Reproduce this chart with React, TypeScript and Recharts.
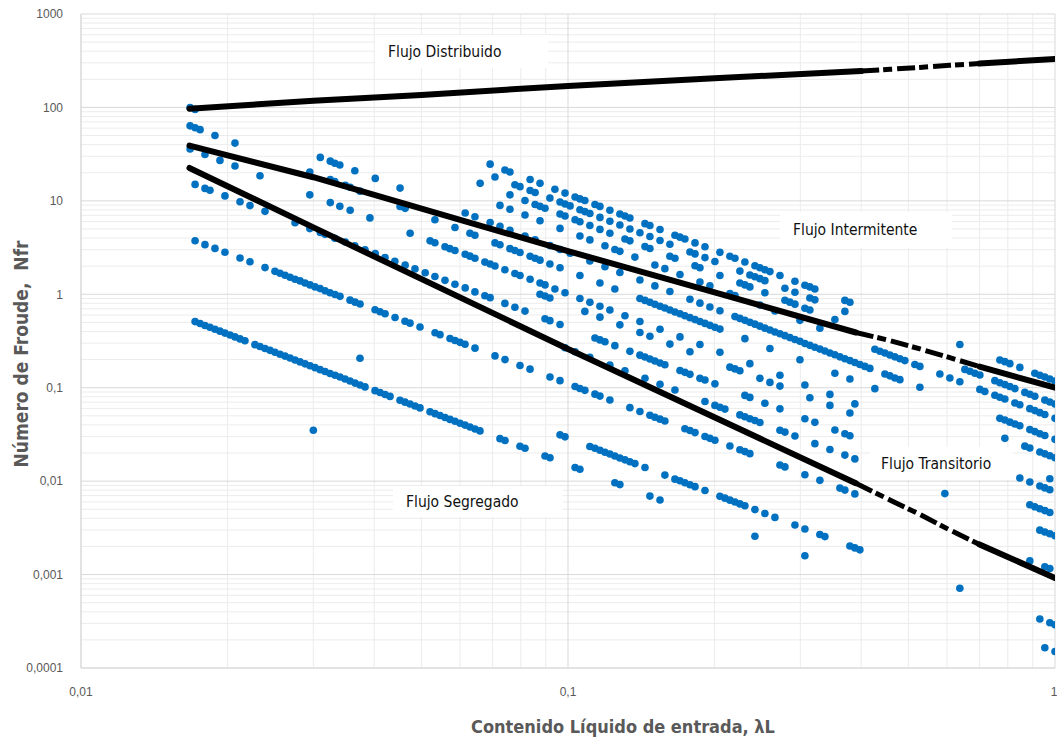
import React from "react";
import { ScatterChart, Scatter, XAxis, YAxis, ReferenceLine } from "recharts";

type Pt = [number, number];

// Flow-pattern boundary lines: dense parts and the thinner broken stretch between them
const distribuidoA: Pt[] = [[0.0167, 97], [0.03, 118], [0.05, 136], [0.1, 170], [0.2, 205], [0.4, 245]];
const distribuidoMid: Pt[] = [[0.4, 245], [0.458, 256], [0.528, 268], [0.608, 282], [0.7, 295]];
const distribuidoB: Pt[] = [[0.7, 295], [1, 330]];
const intermitenteA: Pt[] = [[0.0167, 39], [0.03, 17.9], [0.1, 2.9], [0.2, 1.05], [0.39, 0.39]];
const intermitenteMid: Pt[] = [[0.39, 0.39], [0.458, 0.32], [0.528, 0.26], [0.608, 0.21], [0.7, 0.168]];
const intermitenteB: Pt[] = [[0.7, 0.168], [1, 0.1]];
const transitorioA: Pt[] = [[0.0167, 22.5], [0.03, 5.2], [0.1, 0.26], [0.39, 0.0095]];
const transitorioMid: Pt[] = [[0.39, 0.0095], [0.458, 0.0063], [0.528, 0.0044], [0.608, 0.003], [0.7, 0.0021]];
const transitorioB: Pt[] = [[0.7, 0.0021], [1, 0.00092]];

// Measured points, grouped by visible rows (lambda, Nfr)
const rowT1: Pt[] = [[0.0692,24.7],[0.0742,21.4],[0.076,20.4],[0.0836,16.9],[0.0876,15.4],[0.094,13.3],[0.0986,12.1],[0.1034,11.0],[0.1058,10.5],[0.1083,10.1],[0.1136,9.15],[0.1163,8.72],[0.1219,7.93],[0.1278,7.22],[0.1309,6.88],[0.134,6.56],[0.1439,5.7],[0.1473,5.44],[0.1545,4.94],[0.1658,4.28],[0.1698,4.09],[0.1738,3.91],[0.1823,3.55],[0.1911,3.23],[0.2051,2.81],[0.215,2.55],[0.2202,2.43],[0.2308,2.22],[0.242,2.02],[0.2478,1.92],[0.2537,1.83],[0.2598,1.75],[0.2724,1.59],[0.2924,1.38],[0.3065,1.25],[0.3138,1.2],[0.3213,1.14],[0.3703,0.86],[0.3792,0.821],[0.6377,0.29],[0.7705,0.198],[0.7889,0.19],[0.8078,0.181],[0.8468,0.165],[0.909,0.143],[0.9308,0.136],[0.953,0.13],[0.9758,0.124],[1,0.118]];
const rowT2: Pt[] = [[0.0708,18.0],[0.0778,14.9],[0.0797,14.2],[0.0836,12.9],[0.0856,12.3],[0.0918,10.7],[0.0963,9.71],[0.0986,9.26],[0.101,8.83],[0.1058,8.04],[0.1083,7.67],[0.1109,7.31],[0.1163,6.65],[0.1219,6.05],[0.1278,5.51],[0.134,5.0],[0.1405,4.55],[0.1473,4.15],[0.1545,3.77],[0.1619,3.43],[0.178,2.84],[0.1823,2.71],[0.1911,2.47],[0.2003,2.24],[0.2254,1.77],[0.2363,1.61],[0.242,1.54],[0.2478,1.47],[0.2537,1.4],[0.2789,1.16],[0.2924,1.05],[0.3138,0.914],[0.3213,0.872],[0.3703,0.656]];
const rowT3: Pt[] = [[0.066,15.4],[0.076,11.6],[0.0816,10.1],[0.0856,9.15],[0.0876,8.73],[0.0897,8.33],[0.0963,7.23],[0.0986,6.89],[0.1034,6.27],[0.1058,5.98],[0.1109,5.44],[0.1163,4.95],[0.1219,4.5],[0.1309,3.91],[0.134,3.73],[0.1439,3.24],[0.1473,3.09],[0.1619,2.55],[0.1658,2.43],[0.1823,2.02],[0.1866,1.92],[0.2051,1.59],[0.2254,1.32],[0.2308,1.26],[0.2363,1.2],[0.2537,1.04],[0.2789,0.864],[0.2855,0.824],[0.2924,0.784],[0.3065,0.71],[0.3138,0.68],[0.3532,0.537],[0.653,0.157],[0.6686,0.15],[0.6846,0.143],[0.701,0.137],[0.7525,0.119],[0.7705,0.113],[0.7889,0.108],[0.8078,0.103],[0.8271,0.0978],[0.8671,0.0891],[0.8878,0.0851],[0.909,0.0811],[0.953,0.0737],[0.9758,0.0704],[1,0.067]];
const rowT4: Pt[] = [[0.0725,8.94],[0.076,8.14],[0.0816,7.06],[0.0876,6.12],[0.0963,5.07],[0.1058,4.2],[0.1109,3.82],[0.1191,3.31],[0.1248,3.01],[0.1278,2.88],[0.1372,2.5],[0.1508,2.06],[0.1581,1.88],[0.1698,1.63],[0.1866,1.35],[0.1956,1.23],[0.215,1.02],[0.2202,0.968],[0.2478,0.766],[0.266,0.663],[0.2994,0.526],[0.329,0.434],[0.4267,0.258],[0.4369,0.246],[0.4474,0.235],[0.4581,0.224],[0.469,0.214],[0.4803,0.204],[0.4917,0.195],[0.5155,0.177],[0.5279,0.169],[0.5802,0.14],[0.6083,0.127],[0.6377,0.116],[0.701,0.0959],[0.7177,0.0912],[0.7525,0.0832],[0.7705,0.079],[0.7889,0.0757],[0.8271,0.0686],[0.8468,0.0658],[0.8878,0.0597],[0.909,0.0569],[0.9308,0.0541],[0.953,0.0517],[1,0.047]];
const rowR6: Pt[] = [[0.01675,99.9],[0.01715,95.3],[0.031,29.2],[0.0325,26.6],[0.0332,25.3],[0.034,24.2],[0.0365,21.0],[0.0402,17.4],[0.0452,13.7],[0.0615,7.42],[0.0644,6.75],[0.0692,5.85],[0.0725,5.33],[0.076,4.85],[0.0816,4.21],[0.0856,3.82],[0.0918,3.32],[0.0963,3.02],[0.101,2.75],[0.1109,2.27],[0.1191,1.97],[0.1278,1.71],[0.1405,1.42],[0.1508,1.23],[0.1619,1.07],[0.178,0.885],[0.1866,0.804],[0.1956,0.731],[0.2051,0.666],[0.2202,0.577],[0.2254,0.552],[0.2308,0.526],[0.2363,0.501],[0.242,0.479],[0.2478,0.456],[0.2537,0.434],[0.2598,0.414],[0.266,0.395],[0.2724,0.378],[0.2789,0.361],[0.2855,0.344],[0.2924,0.328],[0.2994,0.314],[0.3065,0.297],[0.3138,0.284],[0.3213,0.271],[0.329,0.259],[0.3369,0.247],[0.345,0.235],[0.3532,0.225],[0.3617,0.214],[0.3703,0.204],[0.3792,0.195],[0.3882,0.186],[0.3975,0.177],[0.407,0.169],[0.4168,0.161],[0.4474,0.14],[0.4581,0.134],[0.469,0.127],[0.4803,0.122],[0.5279,0.101],[0.7705,0.047],[0.7889,0.0451],[0.8078,0.0428],[0.8271,0.0409],[0.8468,0.0392],[0.8878,0.0356],[0.909,0.0339],[0.9308,0.0322],[0.953,0.0308],[1,0.028]];
const rowR5: Pt[] = [[0.01675,63.5],[0.01715,60.6],[0.01756,57.8],[0.01884,50.1],[0.02071,41.5],[0.0295,20.4],[0.0325,16.9],[0.0332,16.1],[0.0349,14.7],[0.0357,14.0],[0.0374,12.7],[0.0452,8.72],[0.0463,8.31],[0.0533,6.27],[0.0586,5.18],[0.0629,4.5],[0.0644,4.29],[0.0708,3.55],[0.0725,3.39],[0.076,3.08],[0.0778,2.94],[0.0797,2.8],[0.0836,2.55],[0.0856,2.43],[0.0876,2.32],[0.0918,2.11],[0.0963,1.92],[0.1058,1.59],[0.1163,1.32],[0.1248,1.14],[0.1405,0.901],[0.1439,0.86],[0.1473,0.821],[0.1508,0.781],[0.1545,0.746],[0.1581,0.712],[0.1619,0.678],[0.1658,0.646],[0.1698,0.618],[0.1738,0.589],[0.178,0.562],[0.1823,0.536],[0.1866,0.511],[0.1911,0.488],[0.1956,0.465],[0.2003,0.443],[0.2051,0.424],[0.2308,0.335],[0.2598,0.263],[0.2994,0.199],[0.3532,0.143],[0.3792,0.124],[0.4267,0.0977],[0.7889,0.0287],[0.8671,0.0237],[0.8878,0.0226],[0.9308,0.0205],[0.953,0.0196],[0.9758,0.0187],[1,0.0178]];
const rowR4: Pt[] = [[0.01675,36.0],[0.01797,31.3],[0.01929,27.1],[0.02071,23.6],[0.02331,18.6],[0.0295,11.6],[0.0325,9.58],[0.034,8.73],[0.0357,7.94],[0.0392,6.57],[0.0474,4.5],[0.0521,3.73],[0.0533,3.56],[0.0559,3.23],[0.0572,3.08],[0.0586,2.94],[0.0615,2.68],[0.0629,2.56],[0.0644,2.43],[0.0675,2.21],[0.0692,2.11],[0.0708,2.01],[0.0742,1.83],[0.0778,1.67],[0.0797,1.59],[0.0836,1.45],[0.0876,1.32],[0.0897,1.26],[0.094,1.14],[0.0986,1.04],[0.1058,0.902],[0.1109,0.82],[0.1163,0.746],[0.1219,0.679],[0.1309,0.589],[0.1405,0.511],[0.1545,0.423],[0.1698,0.35],[0.1866,0.29],[0.2051,0.24],[0.2363,0.181],[0.2724,0.136],[0.3065,0.107],[0.345,0.0848],[0.3882,0.0671],[0.9758,0.0106]];
const rowR7: Pt[] = [[0.0876,1.0],[0.0897,0.957],[0.0918,0.913],[0.1083,0.656],[0.1163,0.569],[0.1278,0.471],[0.1405,0.39],[0.1473,0.355],[0.1619,0.293],[0.178,0.243],[0.215,0.166],[0.2202,0.159],[0.2254,0.152],[0.2478,0.126],[0.2598,0.114],[0.2724,0.104],[0.3138,0.0782],[0.345,0.0647],[0.3792,0.0536],[0.8468,0.0108],[0.8878,0.00978],[0.9308,0.00886],[0.953,0.00847],[0.9758,0.00809]];
const rowR3: Pt[] = [[0.01715,15.0],[0.01797,13.6],[0.0184,13.0],[0.01975,11.3],[0.02121,9.78],[0.02223,8.9],[0.02387,7.72],[0.02751,5.82],[0.0295,5.05],[0.031,4.59],[0.0317,4.38],[0.0332,3.98],[0.0349,3.63],[0.0365,3.3],[0.0383,3.0],[0.0402,2.73],[0.0421,2.48],[0.0441,2.26],[0.0463,2.05],[0.0485,1.87],[0.0509,1.7],[0.0533,1.55],[0.0559,1.41],[0.0586,1.28],[0.0615,1.17],[0.0644,1.06],[0.0675,0.964],[0.0692,0.92],[0.0742,0.799],[0.0778,0.726],[0.0816,0.661],[0.0897,0.547],[0.0918,0.522],[0.0963,0.475],[0.1136,0.341],[0.1163,0.325],[0.1191,0.31],[0.1248,0.282],[0.134,0.245],[0.1405,0.223],[0.1439,0.213],[0.1473,0.203],[0.1508,0.193],[0.1545,0.184],[0.1581,0.176],[0.1698,0.153],[0.1738,0.146],[0.178,0.139],[0.1866,0.126],[0.1911,0.121],[0.2003,0.11],[0.2308,0.0827],[0.2363,0.0788],[0.2537,0.0682],[0.2724,0.0594],[0.3065,0.0466],[0.3213,0.0426],[0.3532,0.0353],[0.3703,0.0321],[0.3792,0.0306],[0.8878,0.00559],[0.909,0.00532],[0.9308,0.00506],[0.953,0.00484],[0.9758,0.00462]];
const rowR2b: Pt[] = [[0.0986,0.268],[0.1034,0.243],[0.1109,0.211],[0.1219,0.175],[0.1309,0.152],[0.1439,0.126],[0.1545,0.109],[0.1658,0.0944],[0.1911,0.0712],[0.2003,0.0647],[0.2051,0.0619],[0.21,0.059],[0.2254,0.0512],[0.2308,0.0489],[0.2363,0.0465],[0.242,0.0445],[0.2478,0.0424],[0.2724,0.0351],[0.2789,0.0335],[0.2924,0.0304],[0.3213,0.0252],[0.345,0.0218],[0.3703,0.019],[0.3882,0.0173],[0.5941,0.00736],[0.9308,0.00299],[0.953,0.00286],[0.9758,0.00273],[1,0.0026]];
const rowR2: Pt[] = [[0.01715,3.74],[0.01797,3.4],[0.01884,3.1],[0.01975,2.82],[0.02121,2.45],[0.02223,2.23],[0.02387,1.93],[0.02502,1.76],[0.02562,1.68],[0.02624,1.6],[0.02687,1.52],[0.02751,1.45],[0.02817,1.39],[0.02884,1.32],[0.02953,1.26],[0.03024,1.2],[0.03097,1.15],[0.03171,1.09],[0.03246,1.04],[0.03324,0.996],[0.03403,0.95],[0.03568,0.865],[0.03654,0.824],[0.03741,0.787],[0.04016,0.682],[0.04112,0.651],[0.04211,0.62],[0.04414,0.564],[0.04627,0.514],[0.04738,0.491],[0.04967,0.446],[0.05333,0.387],[0.0546,0.37],[0.05724,0.336],[0.05861,0.32],[0.06001,0.306],[0.06145,0.292],[0.06442,0.265],[0.07081,0.219],[0.07424,0.2],[0.07969,0.173],[0.08356,0.158],[0.09184,0.13],[0.09629,0.119],[0.1034,0.103],[0.1058,0.0982],[0.1083,0.0937],[0.1136,0.0853],[0.1163,0.0813],[0.1219,0.0739],[0.134,0.0612],[0.1405,0.0557],[0.1473,0.0507],[0.1508,0.0483],[0.1545,0.0461],[0.1581,0.044],[0.1738,0.0364],[0.178,0.0348],[0.1823,0.0331],[0.1911,0.0301],[0.1956,0.0287],[0.2003,0.0274],[0.215,0.0238],[0.2254,0.0217],[0.2308,0.0207],[0.2363,0.0197],[0.2724,0.0149],[0.2789,0.0142],[0.3065,0.0117],[0.329,0.0102],[0.3617,0.00842],[0.3703,0.00802],[0.3882,0.0073],[0.8878,0.0014],[0.953,0.00121],[0.9758,0.00116]];
const rowRAb: Pt[] = [[0.0374,0.207],[0.0963,0.0313],[0.0986,0.0298],[0.1109,0.0235],[0.1136,0.0225],[0.1163,0.0214],[0.1191,0.0204],[0.1219,0.0195],[0.1248,0.0186],[0.1278,0.0177],[0.1309,0.0169],[0.134,0.0161],[0.1372,0.0154],[0.1439,0.014],[0.1581,0.0116],[0.1658,0.0105],[0.1698,0.0101],[0.1738,0.0096],[0.178,0.00916],[0.1823,0.00873],[0.1911,0.00795],[0.2051,0.0069],[0.21,0.00658],[0.215,0.00626],[0.2202,0.00597],[0.2254,0.00571],[0.2308,0.00545],[0.242,0.00496],[0.2537,0.0045],[0.266,0.00409],[0.2924,0.00339],[0.3065,0.00307],[0.329,0.00268],[0.3369,0.00255],[0.3792,0.00202],[0.3882,0.00193],[0.3975,0.00184],[0.6377,0.000713],[0.9308,0.000334],[0.9758,0.000305],[1,0.00029]];
const rowRA: Pt[] = [[0.01715,0.51],[0.01756,0.487],[0.01797,0.464],[0.0184,0.443],[0.01884,0.423],[0.01929,0.403],[0.01975,0.384],[0.02023,0.367],[0.02071,0.35],[0.02121,0.333],[0.02171,0.318],[0.02276,0.289],[0.02331,0.276],[0.02387,0.263],[0.02444,0.251],[0.02502,0.24],[0.02562,0.228],[0.02624,0.218],[0.02687,0.208],[0.02751,0.198],[0.02817,0.189],[0.02884,0.18],[0.02953,0.172],[0.03024,0.164],[0.03097,0.156],[0.03171,0.149],[0.03246,0.142],[0.03324,0.136],[0.03403,0.13],[0.03485,0.124],[0.03568,0.118],[0.03654,0.112],[0.03741,0.107],[0.0383,0.102],[0.04016,0.093],[0.04112,0.0888],[0.04211,0.0846],[0.04311,0.0807],[0.04519,0.0735],[0.04627,0.0701],[0.04738,0.0669],[0.04852,0.0638],[0.04967,0.0608],[0.05208,0.0554],[0.05333,0.0528],[0.0546,0.0504],[0.05591,0.048],[0.05724,0.0458],[0.05861,0.0437],[0.06001,0.0417],[0.06145,0.0398],[0.06292,0.038],[0.06442,0.0362],[0.06596,0.0345],[0.0725,0.0285],[0.07424,0.0272],[0.07969,0.0236],[0.0816,0.0225],[0.0897,0.0186],[0.09184,0.0178],[0.1034,0.014],[0.1058,0.0134],[0.1248,0.00962],[0.1278,0.00918],[0.1473,0.00692],[0.1545,0.00629],[0.242,0.00257],[0.3065,0.00159],[0.953,0.000165],[1,0.00015]];
const strayPoints: Pt[] = [[0.03, 0.035]];

const xTicks = [0.01, 0.1, 1];
const yTicks = [0.0001, 0.001, 0.01, 0.1, 1, 10, 100, 1000];

const toObj = (pts: Pt[]) => pts.map(([x, y]) => ({ x, y }));
const measured = toObj([rowT1, rowT2, rowT3, rowT4, rowR6, rowR5, rowR4, rowR7, rowR3, rowR2b, rowR2, rowRAb, rowRA, strayPoints].flat());
const denseParts = [distribuidoA, distribuidoB, intermitenteA, intermitenteB, transitorioA, transitorioB];
const brokenParts = [distribuidoMid, intermitenteMid, transitorioMid];

// log grid: minor lines at 2..9 of every decade
const minorOf = (decades: number[]) =>
  decades.slice(0, -1).flatMap((d) => [2, 3, 4, 5, 6, 7, 8, 9].map((m) => +(d * m).toPrecision(3)));
const xMinor = minorOf(xTicks);
const yMinor = minorOf(yTicks);

const fmt = (v: number) => String(v).replace(".", ",");
const tickStyle = { fontSize: 12, fill: "#595959", fontFamily: "'Liberation Sans', Arial, sans-serif" };
const narrow = "'Liberation Sans Narrow', 'DejaVu Sans Condensed', sans-serif";

const BlueDot = (p: any) => <circle cx={p.cx} cy={p.cy} r={3.8} fill="#0070C0" />;
const NoDot = () => <g />;
const denseLine = { stroke: "#000", strokeWidth: 6, strokeLinecap: "round" as const };
const brokenLine = { stroke: "#000", strokeWidth: 5, strokeDasharray: "18 4 9 5" };

const boxStyle = (left: number, top: number, width: number, height: number): React.CSSProperties => ({
  position: "absolute",
  left,
  top,
  width,
  height,
  boxSizing: "border-box",
  paddingLeft: 13,
  background: "#fff",
  display: "flex",
  alignItems: "center",
  fontFamily: narrow,
  fontSize: 15.5,
  color: "#111",
  whiteSpace: "nowrap",
});

export default function App() {
  return (
    <div style={{ position: "absolute", left: 0, top: 0, width: 1057, height: 740, background: "#fff" }}>
      <ScatterChart width={1057} height={740} margin={{ top: 14, right: 2, left: 11, bottom: 42 }}>
        {xMinor.map((v) => (
          <ReferenceLine key={"xm" + v} x={v} stroke="#ececec" strokeWidth={1} />
        ))}
        {yMinor.map((v) => (
          <ReferenceLine key={"ym" + v} y={v} stroke="#ececec" strokeWidth={1} />
        ))}
        {xTicks.map((v) => (
          <ReferenceLine key={"xM" + v} x={v} stroke="#d9d9d9" strokeWidth={1} />
        ))}
        {yTicks.map((v) => (
          <ReferenceLine key={"yM" + v} y={v} stroke="#d9d9d9" strokeWidth={1} />
        ))}
        <XAxis
          type="number"
          dataKey="x"
          scale="log"
          domain={[0.01, 1]}
          ticks={xTicks}
          tickFormatter={fmt}
          tick={tickStyle}
          tickLine={false}
          axisLine={{ stroke: "#d9d9d9" }}
          tickMargin={13}
          height={30}
          allowDataOverflow
        />
        <YAxis
          type="number"
          dataKey="y"
          scale="log"
          domain={[0.0001, 1000]}
          ticks={yTicks}
          tickFormatter={fmt}
          tick={tickStyle}
          tickLine={false}
          axisLine={{ stroke: "#d9d9d9" }}
          tickMargin={12}
          width={70}
          allowDataOverflow
        />
        <Scatter data={measured} shape={BlueDot} isAnimationActive={false} />
        {denseParts.map((part, i) => (
          <Scatter key={"d" + i} data={toObj(part)} shape={NoDot} line={denseLine} isAnimationActive={false} />
        ))}
        {brokenParts.map((part, i) => (
          <Scatter key={"k" + i} data={toObj(part)} shape={NoDot} line={brokenLine} isAnimationActive={false} />
        ))}
      </ScatterChart>

      <div style={boxStyle(375, 35, 173, 33)}>Flujo Distribuido</div>
      <div style={boxStyle(780, 212, 172, 36)}>Flujo Intermitente</div>
      <div style={{ ...boxStyle(870, 447, 143, 33), paddingLeft: 11 }}>Flujo Transitorio</div>
      <div style={boxStyle(393, 486, 170, 31)}>Flujo Segregado</div>

      <div
        style={{
          position: "absolute",
          left: 623,
          top: 726,
          transform: "translate(-50%, -50%)",
          whiteSpace: "nowrap",
          fontFamily: narrow,
          fontWeight: "bold",
          fontSize: 18,
          color: "#595959",
        }}
      >
        Contenido Líquido de entrada, λL
      </div>
      <div
        style={{
          position: "absolute",
          left: 21,
          top: 354,
          transform: "translate(-50%, -50%) rotate(-90deg)",
          whiteSpace: "nowrap",
          fontFamily: narrow,
          fontWeight: "bold",
          fontSize: 19,
          color: "#595959",
        }}
      >
        Número de Froude,&nbsp; Nfr
      </div>
    </div>
  );
}
